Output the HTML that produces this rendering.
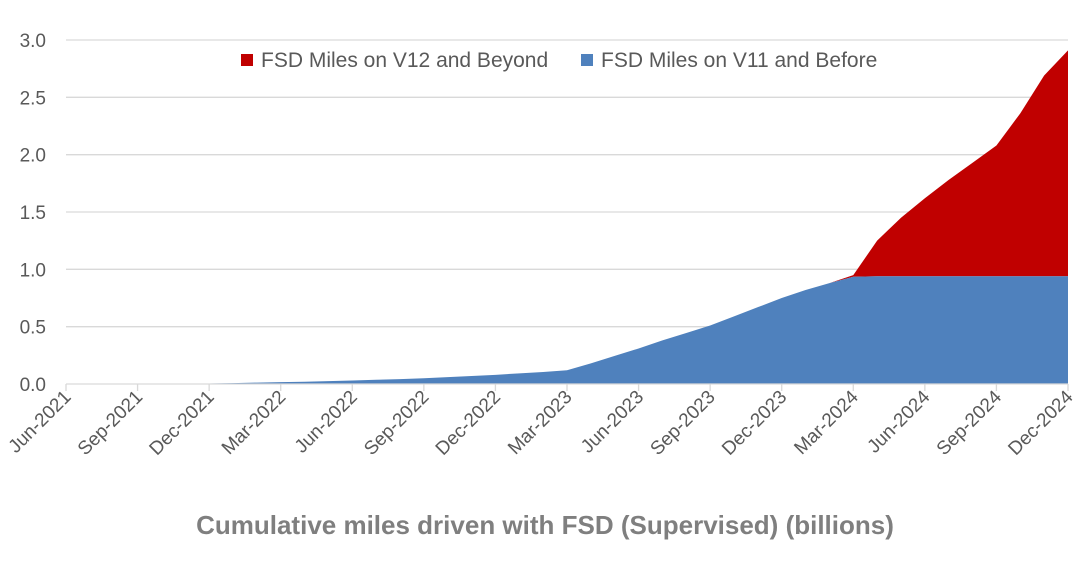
<!DOCTYPE html>
<html><head><meta charset="utf-8"><style>
body{margin:0;background:#fff;}
svg text{font-family:"Liberation Sans",sans-serif;fill:#595959;}
</style></head><body>
<svg id="c" width="1080" height="556"></svg>
<script>
const months=["Jun-2021","Jul-2021","Aug-2021","Sep-2021","Oct-2021","Nov-2021","Dec-2021","Jan-2022","Feb-2022","Mar-2022","Apr-2022","May-2022","Jun-2022","Jul-2022","Aug-2022","Sep-2022","Oct-2022","Nov-2022","Dec-2022","Jan-2023","Feb-2023","Mar-2023","Apr-2023","May-2023","Jun-2023","Jul-2023","Aug-2023","Sep-2023","Oct-2023","Nov-2023","Dec-2023","Jan-2024","Feb-2024","Mar-2024","Apr-2024","May-2024","Jun-2024","Jul-2024","Aug-2024","Sep-2024","Oct-2024","Nov-2024","Dec-2024"];
const v11=[0,0,0,0,0.001,0.002,0.004,0.008,0.012,0.016,0.02,0.025,0.03,0.037,0.043,0.05,0.06,0.07,0.08,0.093,0.105,0.12,0.18,0.245,0.31,0.38,0.445,0.51,0.59,0.67,0.75,0.82,0.88,0.935,0.94,0.94,0.94,0.94,0.94,0.94,0.94,0.94,0.94];
const v12=[0,0,0,0,0,0,0,0,0,0,0,0,0,0,0,0,0,0,0,0,0,0,0,0,0,0,0,0,0,0,0,0,0,0.015,0.31,0.51,0.68,0.84,0.99,1.14,1.42,1.75,1.97];
const yTicks=["0.0","0.5","1.0","1.5","2.0","2.5","3.0"];
const NS="http://www.w3.org/2000/svg",svg=document.getElementById('c');
const x0=66,x1=1068,y0=384,y3=40;
const X=i=>x0+(x1-x0)*i/(months.length-1);
const Y=v=>y0-(y0-y3)*v/3;
function mk(t,a,p){const e=document.createElementNS(NS,t);for(const k in a)e.setAttribute(k,a[k]);(p||svg).appendChild(e);return e;}
yTicks.forEach((t,i)=>{const v=parseFloat(t);
 if(v>0){const g=mk('line',{x1:x0,x2:x1,y1:Y(v),y2:Y(v),stroke:'#d9d9d9','stroke-width':1.3});
 
 }
 const l=mk('text',{x:46,y:Y(v)+7,'text-anchor':'end','font-size':19});l.textContent=t;
 
 });
const topPts=[],botPts=[];
months.forEach((m,i)=>{botPts.push(X(i)+','+Y(v11[i]));topPts.push(X(i)+','+Y(v11[i]+v12[i]));});
const red=mk('polygon',{points:topPts.concat(botPts.slice().reverse()).join(' '),fill:'#c00000'});


const blue=mk('polygon',{points:botPts.concat([X(months.length-1)+','+y0,X(0)+','+y0]).join(' '),fill:'#4f81bd'});


const ax=mk('line',{x1:x0,x2:x1,y1:y0,y2:y0,stroke:'#d9d9d9','stroke-width':1.3});


months.forEach((m,i)=>{if(i%3)return;
 const tk=mk('line',{x1:X(i),x2:X(i),y1:y0,y2:y0+7,stroke:'#d9d9d9','stroke-width':1.3});
 
 
 const t=mk('text',{x:X(i)+6,y:y0+14,'text-anchor':'end','font-size':19,transform:`rotate(-45 ${X(i)+6} ${y0+14})`});
 t.textContent=m;
 
 });
const lg=[["#c00000","FSD Miles on V12 and Beyond",241],["#4f81bd","FSD Miles on V11 and Before",581]];
lg.forEach(d=>{const r=mk('rect',{x:d[2],y:54,width:12,height:12,fill:d[0]});
 
 
 const t=mk('text',{x:d[2]+20,y:67,'font-size':21});t.textContent=d[1];
 
 });
const ti=mk('text',{x:545,y:534,'text-anchor':'middle','font-size':26,'font-weight':'bold'});
ti.setAttribute('style','fill:#7f7f7f');
ti.textContent="Cumulative miles driven with FSD (Supervised) (billions)";


</script>
</body></html>
